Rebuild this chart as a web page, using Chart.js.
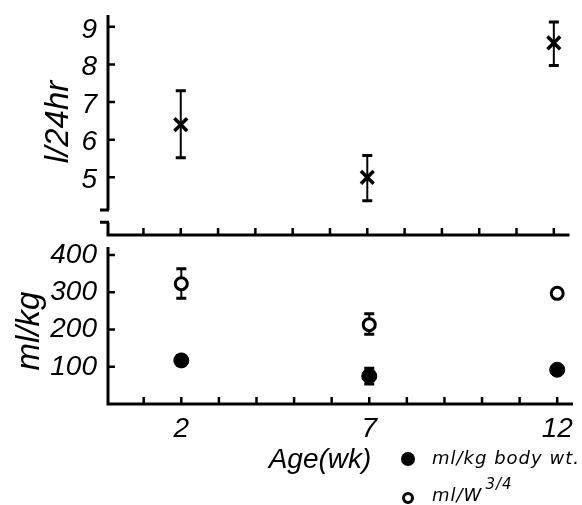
<!DOCTYPE html>
<html>
<head>
<meta charset="utf-8">
<script src="https://cdn.jsdelivr.net/npm/chart.js@4/dist/chart.umd.min.js"></script>
<style>
  body { margin: 0; background: #fff; }
  #wrap { position: relative; width: 582px; height: 505px; overflow: hidden; }
  canvas { position: absolute; left: 0; }
  #topChart { top: -12px; }
  #bottomChart { top: 215px; }
</style>
</head>
<body>
<div id="wrap">
  <canvas id="topChart" width="582" height="277"></canvas>
  <canvas id="bottomChart" width="582" height="290"></canvas>
</div>
<script>
// values
const weeks = [2, 7, 12];
const dailyMean = [6.4, 5.0, 8.57];
const dailyLow = [5.52, 4.38, 7.97];
const dailyHigh = [7.3, 5.58, 9.13];
const perKgMean = [117, 75, 92];
const perKgLow = [104, 54, 88];
const perKgHigh = [130, 96, 96];
const perW34Mean = [323, 213, 297];
const perW34Low = [284, 187, 293];
const perW34High = [363, 242, 301];
const topTicks = [5, 6, 7, 8, 9];
const bottomTicks = [100, 200, 300, 400];
const xLabelTicks = [2, 7, 12];
const weekTicks = [1, 2, 3, 4, 5, 6, 7, 8, 9, 10, 11, 12];

const tickFont = { family: 'Liberation Sans', style: 'italic', size: 28 };

function points(ys) {
    return weeks.map((w, i) => ({ x: w, y: ys[i] }));
}

// vertical error bars with caps, drawn under the markers
const errorBars = {
    id: 'errorBars',
    beforeDatasetsDraw(chart) {
        const ctx = chart.ctx;
        const xs = chart.scales.x, ys = chart.scales.y;
        ctx.save();
        ctx.strokeStyle = '#000';
        chart.data.datasets.forEach(ds => {
            if (!ds.low) return;
            ds.data.forEach((p, i) => {
                const px = xs.getPixelForValue(p.x);
                const top = ys.getPixelForValue(ds.high[i]);
                const bot = ys.getPixelForValue(ds.low[i]);
                ctx.lineWidth = 2;
                ctx.beginPath();
                ctx.moveTo(px, top);
                ctx.lineTo(px, bot);
                ctx.stroke();
                ctx.lineWidth = 3;
                ctx.beginPath();
                ctx.moveTo(px - 5, top); ctx.lineTo(px + 5, top);
                ctx.moveTo(px - 5, bot); ctx.lineTo(px + 5, bot);
                ctx.stroke();
            });
        });
        ctx.restore();
    }
};

// axis lines (with the break on the upper panel), inward ticks and titles
const axesPlugin = {
    id: 'axes',
    afterDraw(chart, args, o) {
        const ctx = chart.ctx;
        const xs = chart.scales.x, ys = chart.scales.y;
        const x0 = xs.left;
        ctx.save();
        ctx.strokeStyle = '#000';
        ctx.fillStyle = '#000';
        ctx.lineWidth = 3;
        ctx.beginPath();
        o.segments.forEach(s => {
            ctx.moveTo(x0, ys.getPixelForValue(s[0]));
            ctx.lineTo(x0, ys.getPixelForValue(s[1]));
        });
        (o.stubs || []).forEach(v => {
            const py = ys.getPixelForValue(v);
            ctx.moveTo(x0 + 1, py);
            ctx.lineTo(x0 - 8, py);
        });
        ctx.moveTo(x0 - 1.5, ys.bottom);
        ctx.lineTo(xs.right, ys.bottom);
        ctx.stroke();

        ctx.lineWidth = 2.5;
        ctx.beginPath();
        o.yTicks.forEach(v => {
            const py = ys.getPixelForValue(v);
            ctx.moveTo(x0, py);
            ctx.lineTo(x0 + 7, py);
        });
        weekTicks.forEach(v => {
            const px = xs.getPixelForValue(v);
            ctx.moveTo(px, ys.bottom);
            ctx.lineTo(px, ys.bottom - 7);
        });
        ctx.stroke();

        // rotated y title
        ctx.font = 'italic 33px "Liberation Sans"';
        ctx.textAlign = 'center';
        ctx.textBaseline = 'middle';
        ctx.save();
        ctx.translate(o.yTitle.x, o.yTitle.y);
        ctx.rotate(-Math.PI / 2);
        ctx.fillText(o.yTitle.text, 0, 0);
        ctx.restore();

        if (o.legend) {
            ctx.font = 'italic 28px "Liberation Sans"';
            ctx.fillText('Age(wk)', 320, 245);

            ctx.beginPath();
            ctx.arc(408, 244, 7, 0, Math.PI * 2);
            ctx.fill();
            ctx.lineWidth = 3;
            ctx.beginPath();
            ctx.arc(408, 283, 4.5, 0, Math.PI * 2);
            ctx.stroke();

            ctx.textAlign = 'left';
            ctx.font = 'italic 18px "DejaVu Sans"';
            ctx.letterSpacing = '1px';
            ctx.fillText('ml/kg body wt.', 432, 244);
            ctx.fillText('ml/W', 432, 281);
            const w = ctx.measureText('ml/W').width;
            ctx.font = 'italic 15px "DejaVu Sans"';
            ctx.fillText('3/4', 432 + w + 3, 270);
        }
        ctx.restore();
    }
};

function xScale(showLabels, height) {
    return {
        type: 'linear',
        min: 0.05,
        max: 12.42,
        grid: { display: false, drawTicks: false },
        border: { display: false },
        afterBuildTicks: s => { s.ticks = xLabelTicks.map(v => ({ value: v })); },
        ticks: { display: showLabels, font: tickFont, color: '#000', padding: 8, maxRotation: 0 },
        afterFit: s => { s.height = height; }
    };
}

function yScale(min, max, ticks, labelOffset) {
    return {
        min: min,
        max: max,
        grid: { display: false, drawTicks: false },
        border: { display: false },
        afterBuildTicks: s => { s.ticks = ticks.map(v => ({ value: v })); },
        ticks: { font: tickFont, color: '#000', padding: 11, labelOffset: labelOffset },
        afterFit: s => { s.width = 108; }
    };
}

const commonPlugins = {
    legend: { display: false },
    tooltip: { enabled: false }
};

const topChart = new Chart(document.getElementById('topChart'), {
    type: 'scatter',
    data: {
        datasets: [{
            label: 'l/24hr',
            data: points(dailyMean),
            low: dailyLow,
            high: dailyHigh,
            pointStyle: 'crossRot',
            pointRadius: 9,
            borderColor: '#000',
            borderWidth: 3.5
        }]
    },
    options: {
        responsive: false,
        animation: false,
        layout: { padding: { top: 32, right: 5, left: 0, bottom: 0 } },
        scales: {
            x: xScale(false, 30),
            y: yScale(3.468, 9.18, topTicks, 3)
        },
        plugins: Object.assign({}, commonPlugins, {
            axes: {
                segments: [[9.31, 4.13], [3.81, 3.468]],
                stubs: [4.13, 3.81],
                yTicks: topTicks,
                yTitle: { text: 'l/24hr', x: 59, y: 134 }
            }
        })
    },
    plugins: [errorBars, axesPlugin]
});

const bottomChart = new Chart(document.getElementById('bottomChart'), {
    type: 'scatter',
    data: {
        datasets: [{
            label: 'ml/kg body wt.',
            data: points(perKgMean),
            low: perKgLow,
            high: perKgHigh,
            pointStyle: 'circle',
            pointRadius: 7.5,
            backgroundColor: '#000',
            borderColor: '#000',
            borderWidth: 1
        }, {
            label: 'ml/W3/4',
            data: points(perW34Mean),
            low: perW34Low,
            high: perW34High,
            pointStyle: 'circle',
            pointRadius: 6,
            backgroundColor: '#fff',
            borderColor: '#000',
            borderWidth: 3
        }]
    },
    options: {
        responsive: false,
        animation: false,
        layout: { padding: { top: 32, right: 5, left: 0, bottom: 0 } },
        scales: {
            x: xScale(true, 101),
            y: yScale(0, 421.5, bottomTicks, 0)
        },
        plugins: Object.assign({}, commonPlugins, {
            axes: {
                segments: [[421.5, 0]],
                yTicks: bottomTicks,
                yTitle: { text: 'ml/kg', x: 30, y: 116 },
                legend: true
            }
        })
    },
    plugins: [errorBars, axesPlugin]
});
</script>
</body>
</html>
